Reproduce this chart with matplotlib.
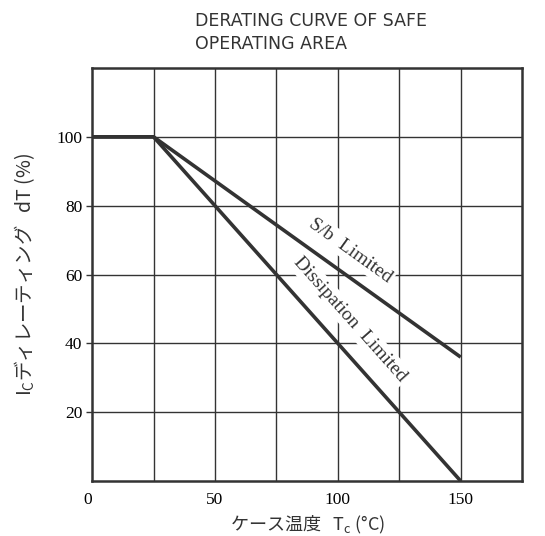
import numpy as np
import matplotlib.pyplot as plt

# derating data (case temperature degC, % of rated Ic)
sb_temp = [0, 25, 150]
sb_pct = [100, 100, 36]
diss_temp = [0, 25, 150]
diss_pct = [100, 100, 0]

x_ticks = [0, 50, 100, 150]
y_ticks = [20, 40, 60, 80, 100]
x_grid = [25, 50, 75, 100, 125, 150]
y_grid = [20, 40, 60, 80, 100]

serif = 'Liberation Serif'
jp = ['Noto Sans CJK JP', 'DejaVu Sans']
ink = '#333333'

fig = plt.figure(figsize=(5.45, 5.36), dpi=100)
ax = fig.add_axes([0.169, 0.1026, 0.789, 0.7705])

ax.set_xlim(0, 175)
ax.set_ylim(0, 120)
for v in x_grid:
    ax.axvline(v, color=ink, lw=1.0, zorder=1)
for v in y_grid:
    ax.axhline(v, color=ink, lw=1.0, zorder=1)
ax.set_xticks(x_ticks)
ax.set_yticks(y_ticks)
ax.set_xticklabels([str(v) for v in x_ticks], fontfamily=serif, fontsize=12.5)
ax.set_yticklabels([str(v) for v in y_ticks], fontfamily=serif, fontsize=12.5)
ax.tick_params(axis='x', length=0, pad=8)
ax.tick_params(axis='y', length=4, width=1, color=ink, pad=3)
ax.get_xticklabels()[0].set_horizontalalignment('right')
for s in ax.spines.values():
    s.set_color(ink)
    s.set_linewidth(1.8)

ax.plot(sb_temp, sb_pct, color=ink, lw=2.6, solid_capstyle='butt', zorder=5)
ax.plot(diss_temp, diss_pct, color=ink, lw=2.6, solid_capstyle='butt', zorder=5)


def angle(xs, ys):
    p = ax.transData.transform(np.column_stack([xs[1:], ys[1:]]))
    return np.degrees(np.arctan2(p[1, 1] - p[0, 1], p[1, 0] - p[0, 0]))


box = dict(facecolor='white', edgecolor='none', pad=2)
ax.text(105, 67, 'S/b  Limited', rotation=angle(sb_temp, sb_pct), fontfamily=serif,
        fontsize=14, ha='center', va='center', color=ink, bbox=box, zorder=4)
ax.text(105, 47, 'Dissipation  Limited', rotation=angle(diss_temp, diss_pct), fontfamily=serif,
        fontsize=14, ha='center', va='center', color=ink, bbox=box, zorder=4)

ax.set_xlabel('ケース温度   T$_\\mathregular{c}$ (°C)', fontfamily=jp, fontsize=13, labelpad=4, color=ink)
ax.set_ylabel('I$_\\mathregular{C}$ディレーティング   dT (%)', fontfamily=jp, fontsize=14, labelpad=14, color=ink)

fig.text(0.358, 0.94, 'DERATING CURVE OF SAFE\nOPERATING AREA', fontfamily='DejaVu Sans',
         fontsize=12.5, ha='left', va='center', color=ink, linespacing=1.35)

fig.savefig('out.png', dpi=100)
